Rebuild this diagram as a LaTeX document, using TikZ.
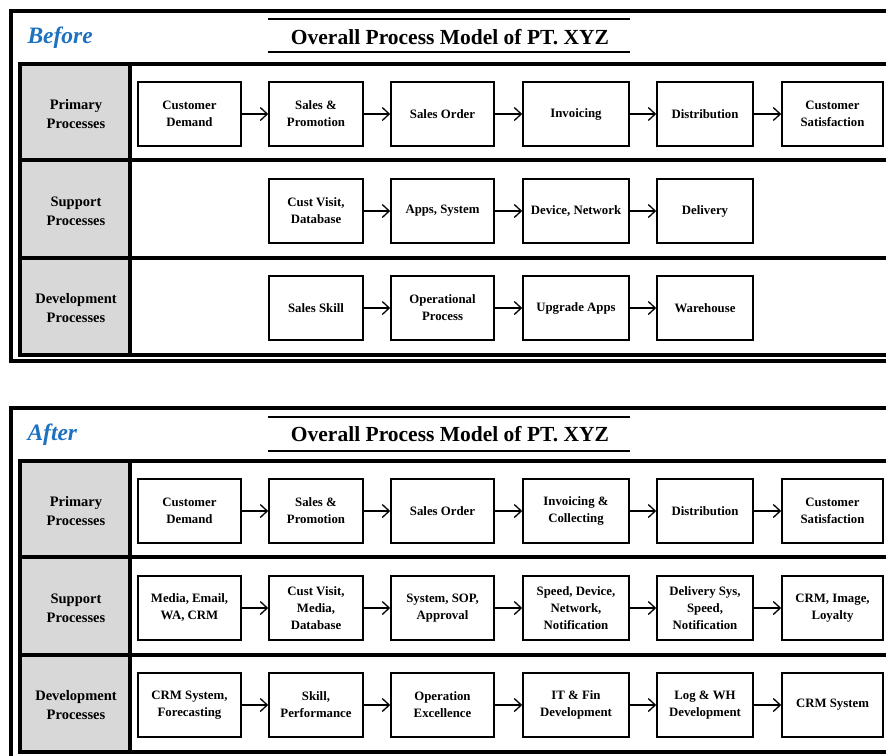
\documentclass[tikz,border=0pt]{standalone}
\usepackage{fontspec}
\setmainfont{Liberation Serif}
\usetikzlibrary{arrows.meta}
\definecolor{tagblue}{RGB}{30,112,192}
\definecolor{cellgray}{RGB}{216,216,216}

\begin{document}
\begin{tikzpicture}[x=1pt,y=-1pt,
    box/.style={draw,line width=1.6pt,minimum height=64pt,inner sep=1pt,align=center,
      font=\fontsize{12.8}{17}\selectfont\bfseries},
    lbl/.style={align=center,font=\fontsize{14.5}{19}\selectfont\bfseries},
    arr/.style={line width=1.3pt,-{Straight Barb[length=7pt,width=13pt,line width=1.3pt]}},
    frame/.style={line width=4pt},
    tag/.style={anchor=west,text=tagblue,font=\fontsize{23.5}{26}\selectfont\bfseries\itshape},
    title/.style={font=\fontsize{21.5}{24}\selectfont\bfseries}]
  \useasboundingbox (0,0) rectangle (886,755);
  \clip (0,0) rectangle (886,755);

  % Before
  \draw[frame] (11,11) rectangle (900,361);
  \fill[cellgray] (20,64) rectangle (130,355);
  \draw[frame] (20,64) rectangle (900,355);
  \draw[frame] (20,160) -- (900,160);
  \draw[frame] (20,258) -- (900,258);
  \draw[frame] (130,64) -- (130,355);
  \draw[line width=2.5pt] (268,19) -- (630,19);
  \draw[line width=2.5pt] (268,52) -- (630,52);
  \node[tag] (btag) at (24,38) {Before};
  \node[title] (btitle) at (450,37) {Overall Process Model of PT. XYZ};

  \node[lbl] (bpl) at (76,114) {Primary\\Processes};
  \node[lbl] (bsl) at (76,211) {Support\\Processes};
  \node[lbl] (bdl) at (76,308) {Development\\Processes};

  \node[box,minimum width=103pt] (bp1) at (189.5,114) {Customer\\Demand};
  \node[box,minimum width=94pt] (bp2) at (316,114) {Sales \&\\Promotion};
  \node[box,minimum width=103pt] (bp3) at (442.5,114) {Sales Order};
  \node[box,minimum width=106pt] (bp4) at (576,114) {Invoicing};
  \node[box,minimum width=96pt] (bp5) at (705,114) {Distribution};
  \node[box,minimum width=101pt] (bp6) at (832.5,114) {Customer\\Satisfaction};

  \node[box,minimum width=94pt] (bs2) at (316,211) {Cust Visit,\\Database};
  \node[box,minimum width=103pt] (bs3) at (442.5,211) {Apps, System};
  \node[box,minimum width=106pt] (bs4) at (576,211) {Device, Network};
  \node[box,minimum width=96pt] (bs5) at (705,211) {Delivery};

  \node[box,minimum width=94pt] (bd2) at (316,308) {Sales Skill};
  \node[box,minimum width=103pt] (bd3) at (442.5,308) {Operational\\Process};
  \node[box,minimum width=106pt] (bd4) at (576,308) {Upgrade Apps};
  \node[box,minimum width=96pt] (bd5) at (705,308) {Warehouse};

  \draw[arr] (bp1)--(bp2);
  \draw[arr] (bp2)--(bp3);
  \draw[arr] (bp3)--(bp4);
  \draw[arr] (bp4)--(bp5);
  \draw[arr] (bp5)--(bp6);
  \draw[arr] (bs2)--(bs3);
  \draw[arr] (bs3)--(bs4);
  \draw[arr] (bs4)--(bs5);
  \draw[arr] (bd2)--(bd3);
  \draw[arr] (bd3)--(bd4);
  \draw[arr] (bd4)--(bd5);

  % After
  \begin{scope}[shift={(0,397)}]
    \draw[frame] (11,11) rectangle (900,361);
    \fill[cellgray] (20,64) rectangle (130,355);
    \draw[frame] (20,64) rectangle (900,355);
    \draw[frame] (20,160) -- (900,160);
    \draw[frame] (20,258) -- (900,258);
    \draw[frame] (130,64) -- (130,355);
    \draw[line width=2.5pt] (268,20) -- (630,20);
    \draw[line width=2.5pt] (268,54) -- (630,54);
    \node[tag] (atag) at (24,38) {After};
    \node[title] (atitle) at (450,37) {Overall Process Model of PT. XYZ};

    \node[lbl] (apl) at (76,114) {Primary\\Processes};
    \node[lbl] (asl) at (76,211) {Support\\Processes};
    \node[lbl] (adl) at (76,308) {Development\\Processes};

    \node[box,minimum width=103pt] (ap1) at (189.5,114) {Customer\\Demand};
    \node[box,minimum width=94pt] (ap2) at (316,114) {Sales \&\\Promotion};
    \node[box,minimum width=103pt] (ap3) at (442.5,114) {Sales Order};
    \node[box,minimum width=106pt] (ap4) at (576,114) {Invoicing \&\\Collecting};
    \node[box,minimum width=96pt] (ap5) at (705,114) {Distribution};
    \node[box,minimum width=101pt] (ap6) at (832.5,114) {Customer\\Satisfaction};

    \node[box,minimum width=103pt] (as1) at (189.5,211) {Media, Email,\\WA, CRM};
    \node[box,minimum width=94pt] (as2) at (316,211) {Cust Visit,\\Media,\\Database};
    \node[box,minimum width=103pt] (as3) at (442.5,211) {System, SOP,\\Approval};
    \node[box,minimum width=106pt] (as4) at (576,211) {Speed, Device,\\Network,\\Notification};
    \node[box,minimum width=96pt] (as5) at (705,211) {Delivery Sys,\\Speed,\\Notification};
    \node[box,minimum width=101pt] (as6) at (832.5,211) {CRM, Image,\\Loyalty};

    \node[box,minimum width=103pt] (ad1) at (189.5,308) {CRM System,\\Forecasting};
    \node[box,minimum width=94pt] (ad2) at (316,308) {Skill,\\Performance};
    \node[box,minimum width=103pt] (ad3) at (442.5,308) {Operation\\Excellence};
    \node[box,minimum width=106pt] (ad4) at (576,308) {IT \& Fin\\Development};
    \node[box,minimum width=96pt] (ad5) at (705,308) {Log \& WH\\Development};
    \node[box,minimum width=101pt] (ad6) at (832.5,308) {CRM System};

    \draw[arr] (ap1)--(ap2);
    \draw[arr] (ap2)--(ap3);
    \draw[arr] (ap3)--(ap4);
    \draw[arr] (ap4)--(ap5);
    \draw[arr] (ap5)--(ap6);
    \draw[arr] (as1)--(as2);
    \draw[arr] (as2)--(as3);
    \draw[arr] (as3)--(as4);
    \draw[arr] (as4)--(as5);
    \draw[arr] (as5)--(as6);
    \draw[arr] (ad1)--(ad2);
    \draw[arr] (ad2)--(ad3);
    \draw[arr] (ad3)--(ad4);
    \draw[arr] (ad4)--(ad5);
    \draw[arr] (ad5)--(ad6);
  \end{scope}
\end{tikzpicture}
\end{document}
